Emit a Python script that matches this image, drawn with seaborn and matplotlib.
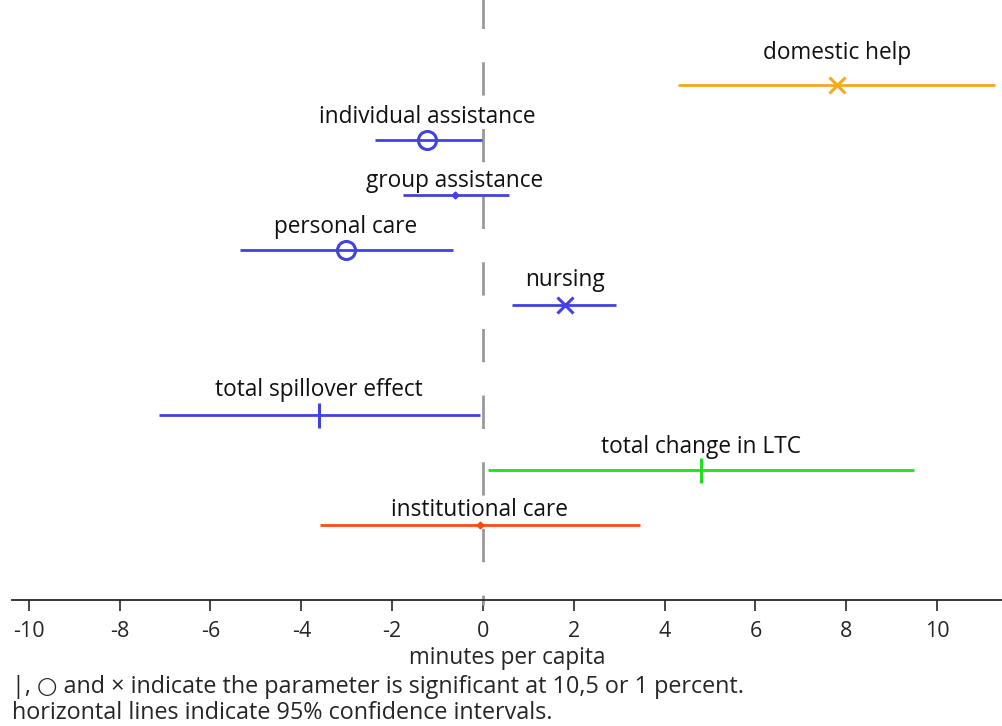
import numpy as np
import pandas as pd
import seaborn as sns
import matplotlib.pyplot as plt

# -----------------------------
# data
# -----------------------------
labels = ["domestic help", "individual assistance", "group assistance",
          "personal care", "nursing", "total spillover effect",
          "total change in LTC", "institutional care"]
rows = [9, 8, 7, 6, 5, 3, 2, 1]
estimate = [7.80, -1.23, -0.62, -3.02, 1.81, -3.61, 4.80, -0.07]
ci_low = [4.30, -2.38, -1.76, -5.35, 0.64, -7.14, 0.11, -3.59]
ci_high = [11.28, -0.02, 0.57, -0.66, 2.93, -0.07, 9.49, 3.46]
signif = ["1", "5", "none", "5", "1", "10", "10", "none"]

df = pd.DataFrame({"label": labels, "row": rows, "est": estimate,
                   "lo": ci_low, "hi": ci_high, "sig": signif})

colors = {"domestic help": "#f7a823", "total change in LTC": "#22dd22",
          "institutional care": "#ff4a1a"}
blue = "#4242dd"
marker_style = {"1": dict(marker="x", ms=12, mew=2.2, fillstyle="none"),
                "5": dict(marker="o", ms=13, mew=2.2, mfc="none"),
                "10": dict(marker="|", ms=18, mew=2.2),
                "none": dict(marker="D", ms=3.5, mew=1)}
label_dy = [0.58, 0.42, 0.25, 0.42, 0.45, 0.45, 0.43, 0.27]

# -----------------------------
# plot
# -----------------------------
sns.set_theme(style="ticks")
plt.rcParams["font.family"] = ["Open Sans", "DejaVu Sans"]
plt.rcParams["axes.unicode_minus"] = False

fig = plt.figure(figsize=(10.02, 7.26), dpi=100)
ax = fig.add_axes([12 / 1002, 126 / 726, 990 / 1002, 600 / 726])

ytop, ybot = 10.55, -0.36
ax.set_xlim(-10.37, 11.43)
ax.set_ylim(ybot, ytop)

# zero line
ax.plot([0, 0], [ytop + 0.07, ybot - 0.09], color="#999999", lw=2,
        linestyle=(1.4, (12, 12)), clip_on=False, zorder=1)

for i, r in df.iterrows():
    c = colors.get(r["label"], blue)
    ax.plot([r["lo"], r["hi"]], [r["row"], r["row"]], color=c, lw=2,
            solid_capstyle="butt", zorder=2)
    ax.plot([r["est"]], [r["row"]], color=c, mec=c, linestyle="none",
            zorder=3, **marker_style[r["sig"]])
    ax.text(r["est"], r["row"] + label_dy[i], r["label"], ha="center",
            va="center", fontsize=16.3, color="#111111")

ax.set_xticks(np.arange(-10, 11, 2))
ax.set_yticks([])
ax.tick_params(axis="x", length=8, width=1.2, labelsize=15.5, pad=7)
sns.despine(ax=ax, left=True, top=True, right=True)
ax.spines["bottom"].set_linewidth(1.3)
ax.set_xlabel("minutes per capita", fontsize=16.3, labelpad=3)

fig.text(12 / 1002, 1 - 687 / 726,
         "|, \u25cb and \u00d7 indicate the parameter is significant at 10,5 or 1 percent.",
         fontsize=16.8, va="center", ha="left")
fig.text(12 / 1002, 1 - 713 / 726,
         "horizontal lines indicate 95% confidence intervals.",
         fontsize=16.8, va="center", ha="left")

fig.savefig("out.png", dpi=100)
